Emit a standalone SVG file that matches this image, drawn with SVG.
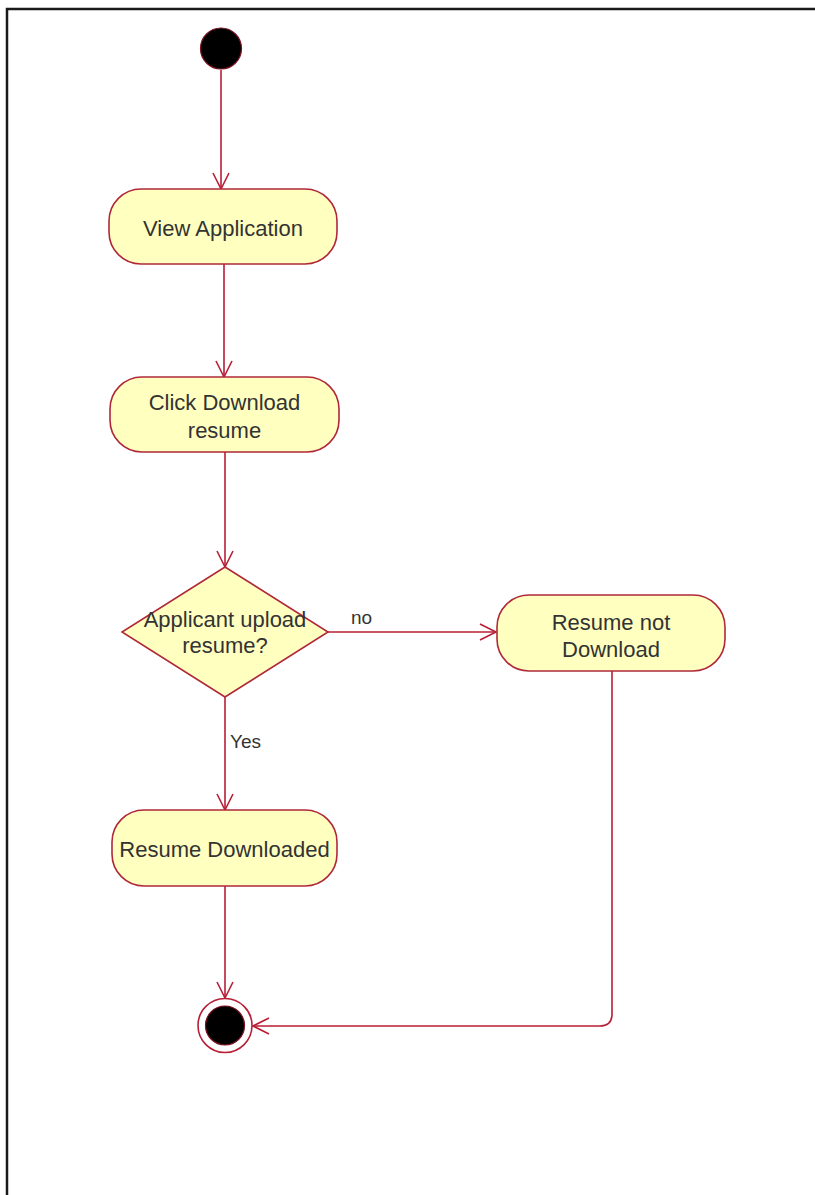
<svg xmlns="http://www.w3.org/2000/svg" width="815" height="1195" viewBox="0 0 815 1195">
  <style>
    .frame { fill: none; stroke: #1a1a1a; stroke-width: 2.5; }
    .action { fill: #ffffc0; stroke: #b0283a; stroke-width: 1.6; }
    .decision { fill: #ffffc0; stroke: #b0283a; stroke-width: 1.6; }
    .label { font-family: "Liberation Sans", Arial, sans-serif; font-size: 22px; fill: #333333; text-anchor: middle; }
    .edge-label { font-family: "Liberation Sans", Arial, sans-serif; font-size: 19px; fill: #333333; }
    .flow { fill: none; stroke: #b81e36; stroke-width: 1.6; marker-end: url(#open-arrow); }
  </style>
  <defs>
    <marker id="open-arrow" markerUnits="userSpaceOnUse" markerWidth="20" markerHeight="20" viewBox="-18 -10 20 20" refX="0" refY="0" orient="auto" overflow="visible">
      <path d="M-16,-8 L0,0 L-16,8" fill="none" stroke="#b81e36" stroke-width="1.6"/>
    </marker>
  </defs>

  <rect width="815" height="1195" fill="#ffffff"/>
  <!-- outer frame -->
  <path class="frame" d="M7,1195 V9 H815"/>

  <!-- control flows -->
  <g id="connectors">
    <path class="flow" d="M221,70 V189"/>
    <path class="flow" d="M224,264 V377"/>
    <path class="flow" d="M225,452 V567"/>
    <path class="flow" d="M328,632 H496"/>
    <text class="edge-label" x="351" y="624">no</text>
    <path class="flow" d="M225,697 V810"/>
    <text class="edge-label" x="230" y="748">Yes</text>
    <path class="flow" d="M225,886 V998"/>
    <path class="flow" d="M612,671 V1014 Q612,1026 600,1026 H253"/>
  </g>

  <!-- initial node -->
  <g id="start">
    <circle cx="221" cy="48.5" r="20.5" fill="#000000" stroke="#7a1020" stroke-width="1.2"/>
  </g>

  <g id="view-application">
    <rect class="action" x="109" y="189" width="228" height="75" rx="32" ry="32"/>
    <text class="label" x="223" y="236">View Application</text>
  </g>

  <g id="click-download">
    <rect class="action" x="110" y="377" width="229" height="75" rx="32" ry="32"/>
    <text class="label" x="224.5" y="410">Click Download</text>
    <text class="label" x="224.5" y="438">resume</text>
  </g>

  <g id="upload-check">
    <polygon class="decision" points="225,567 328,632 225,697 122,632"/>
    <text class="label" x="225" y="627">Applicant upload</text>
    <text class="label" x="225" y="653">resume?</text>
  </g>

  <g id="resume-not-download">
    <rect class="action" x="497" y="595" width="228" height="76" rx="32" ry="32"/>
    <text class="label" x="611" y="630">Resume not</text>
    <text class="label" x="611" y="657">Download</text>
  </g>

  <g id="resume-downloaded">
    <rect class="action" x="112" y="810" width="225" height="76" rx="32" ry="32"/>
    <text class="label" x="224.5" y="857">Resume Downloaded</text>
  </g>

  <!-- final node -->
  <g id="end">
    <circle cx="225" cy="1025.5" r="27" fill="#ffffff" stroke="#b81e36" stroke-width="1.6"/>
    <circle cx="225" cy="1025.5" r="19.5" fill="#000000" stroke="#7a1020" stroke-width="1.2"/>
  </g>
</svg>
